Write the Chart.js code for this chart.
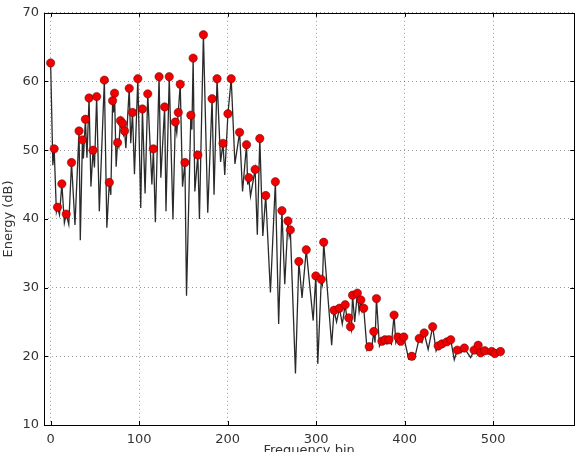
<!DOCTYPE html>
<html>
<head>
<meta charset="utf-8">
<script src="https://cdn.jsdelivr.net/npm/chart.js@4"></script>
<style>
  html, body { margin: 0; padding: 0; background: #fff; }
  canvas { display: block; }
</style>
</head>
<body>
<canvas id="grafica" width="579" height="452"></canvas>
<script>
// peaks (red dots)
const peakBins = [0, 4, 7.8, 12.7, 17.6, 23.6, 32.1, 35.9, 39.3, 43.4, 47.9, 52, 60.7, 66.3, 70, 72.2,
  75.6, 78.9, 81.3, 83.5, 88.8, 92.5, 98.5, 103.7, 109.7, 116.1, 122.5, 128.8, 134, 140.8, 144.2,
  146.4, 151.7, 158.4, 161, 166.3, 172.6, 182.4, 188, 194.7, 200.3, 204, 213.5, 221.3, 223.9, 231,
  236.3, 243, 253.9, 261.3, 268.1, 270.8, 280.4, 288.8, 299.6, 305.8, 308.5, 320.2, 326.3, 332.8,
  336.8, 338.7, 341.1, 346.5, 350.5, 353.7, 359.9, 365.1, 368.1, 374.3, 377.8, 382.2, 388, 392.3,
  395.5, 399, 408, 416.4, 422, 431.6, 437.8, 442, 447.6, 452, 459.4, 467.4, 478.4, 483, 485.8,
  490.5, 498.4, 501.9, 508.2];
const peakDb = [62.7, 50.2, 41.7, 45.1, 40.7, 48.2, 52.8, 51.5, 54.5, 57.6, 50.0, 57.8, 60.2, 45.3, 57.2, 58.3,
  51.1, 54.3, 53.9, 52.8, 59.0, 55.5, 60.4, 56.0, 58.2, 50.2, 60.7, 56.3, 60.7, 54.1, 55.5,
  59.6, 48.2, 55.1, 63.4, 49.3, 66.8, 57.5, 60.4, 51.0, 55.3, 60.4, 52.6, 50.8, 46.0, 47.2,
  51.7, 43.4, 45.4, 41.2, 39.7, 38.4, 33.8, 35.5, 31.7, 31.2, 36.6, 26.7, 27.0, 27.5,
  25.6, 24.3, 28.9, 29.2, 28.2, 27.0, 21.4, 23.6, 28.4, 22.2, 22.4, 22.4, 26.0, 22.8,
  22.2, 22.8, 20.0, 22.6, 23.4, 24.3, 21.5, 21.8, 22.1, 22.4, 20.9, 21.2, 20.9, 21.6, 20.5,
  20.8, 20.7, 20.4, 20.7];

// low points between the peaks
const valleyBins = [2.5, 6.5, 10, 15.5, 20.5, 27.5, 33.5, 37, 41, 45.5, 49.5, 55, 63.5, 68, 71, 74,
  77, 80, 82.4, 85, 90.5, 94.7, 101.8, 106.7, 114.4, 118.3, 124.5, 130.3, 138.2, 142.5, 149,
  153.5, 159.6, 162.9, 168.1, 177.5, 184.6, 192, 196.7, 208.2, 216.8, 222.6, 225.8, 233.5, 239.7,
  248.3, 257.6, 264.5, 269.5, 276.6, 284, 296.6, 301.8, 307, 317.5, 323, 329.5, 335, 337.7,
  339.8, 343.5, 348.5, 352, 357.5, 362.5, 366.5, 371.5, 376, 380, 385, 390, 394, 397.5, 404.5,
  411, 419.5, 426.5, 435.5, 440, 445, 449.5, 456, 463.5, 474.5, 481, 484.5, 488, 494, 500,
  505, 511];
const valleyDb = [47.8, 41.0, 40.6, 39.4, 39.2, 39.1, 36.9, 48.8, 48.9, 44.7, 47.5, 41.1, 38.7, 43.5, 55.5, 47.6,
  50.5, 53.4, 52.3, 50.3, 51.0, 46.5, 41.6, 43.7, 45.0, 39.5, 46.0, 41.1, 39.9, 52.5, 44.7,
  28.8, 53.0, 44.0, 40.0, 40.9, 43.5, 48.3, 46.4, 48.0, 44.0, 45.0, 43.3, 37.7, 37.5,
  29.3, 24.7, 30.5, 37.5, 17.5, 28.5, 25.2, 18.9, 30.5, 21.6, 25.0, 24.7, 25.2, 24.0,
  23.8, 25.0, 26.5, 26.5, 20.9, 21.0, 22.0, 21.5, 21.8, 21.8, 21.8, 22.0, 21.8, 21.8, 19.6,
  19.6, 22.0, 21.0, 20.8, 21.3, 21.5, 21.7, 19.5, 20.5, 19.8, 20.5, 20.2, 20.2, 20.3, 20.1,
  20.1, 20.3];

const xTicks = [0, 100, 200, 300, 400, 500];
const yTicks = [10, 20, 30, 40, 50, 60, 70];

const picos = peakBins.map((b, i) => ({x: b, y: peakDb[i]}));
const valles = valleyBins.map((b, i) => ({x: b, y: valleyDb[i]}));
const traza = picos.concat(valles).sort((a, b) => a.x - b.x);

const fuente = {family: "'DejaVu Sans', sans-serif", size: 13};
const gris = "#333";

// marco negro y marcas de ticks hacia dentro, como matplotlib
const marco = {
  id: "marco",
  afterDatasetsDraw(chart) {
    const {ctx, chartArea: a, scales} = chart;
    ctx.save();
    ctx.strokeStyle = "#000";
    ctx.lineWidth = 1;
    ctx.beginPath();
    xTicks.forEach(t => {
      const px = Math.round(scales.x.getPixelForValue(t)) + 0.5;
      ctx.moveTo(px, a.bottom); ctx.lineTo(px, a.bottom - 4);
      ctx.moveTo(px, a.top); ctx.lineTo(px, a.top + 4);
    });
    yTicks.forEach(t => {
      const py = Math.round(scales.y.getPixelForValue(t)) + 0.5;
      ctx.moveTo(a.left, py); ctx.lineTo(a.left + 4, py);
      ctx.moveTo(a.right, py); ctx.lineTo(a.right - 4, py);
    });
    ctx.stroke();
    ctx.strokeRect(Math.round(a.left) + 0.5, Math.round(a.top) + 0.5,
      Math.round(a.right - a.left), Math.round(a.bottom - a.top));
    ctx.restore();
  }
};

new Chart(document.querySelector("#grafica"), {
  type: "scatter",
  data: {
    datasets: [
      {
        label: "peaks",
        data: picos,
        showLine: false,
        pointRadius: 4.2,
        pointBackgroundColor: "#f00000",
        pointBorderColor: "rgba(90,0,0,0.8)",
        pointBorderWidth: 0.6
      },
      {
        label: "energy",
        data: traza,
        showLine: true,
        borderColor: "#2a2a2a",
        borderWidth: 1.3,
        pointRadius: 0,
        tension: 0
      }
    ]
  },
  options: {
    responsive: false,
    animation: false,
    layout: {padding: {left: 0, right: 2, top: 10, bottom: 0}},
    plugins: {legend: {display: false}, tooltip: {enabled: false}},
    scales: {
      x: {
        type: "linear",
        min: -7.5,
        max: 591.5,
        afterFit: s => { s.height = 27; },
        afterBuildTicks: s => { s.ticks = xTicks.map(v => ({value: v})); },
        ticks: {font: fuente, color: gris, padding: 7, maxRotation: 0},
        grid: {color: "rgba(0,0,0,0.4)", drawTicks: false},
        border: {display: false, dash: [1, 3]},
        title: {display: true, text: "Frequency bin", font: fuente, color: gris, padding: {top: 0, bottom: -6}}
      },
      y: {
        min: 10,
        max: 70,
        afterFit: s => { s.width = 44; },
        afterBuildTicks: s => { s.ticks = yTicks.map(v => ({value: v})); },
        ticks: {font: fuente, color: gris, padding: 5},
        grid: {color: "rgba(0,0,0,0.4)", drawTicks: false},
        border: {display: false, dash: [1, 3]},
        title: {display: true, text: "Energy (dB)", font: fuente, color: gris, padding: {top: 1, bottom: 0}}
      }
    }
  },
  plugins: [marco]
});
</script>
</body>
</html>
